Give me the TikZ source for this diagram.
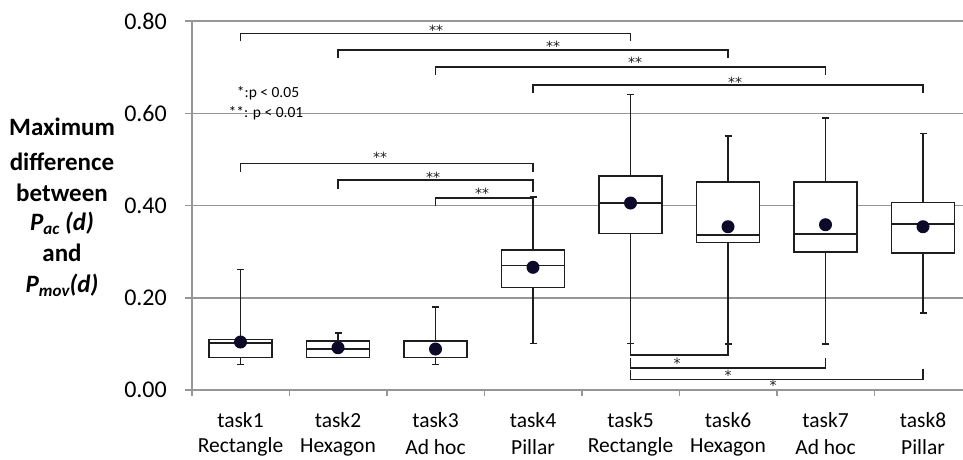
\documentclass[tikz,border=0pt]{standalone}
\usepackage{fontspec}
\setmainfont{Carlito}
\newfontfamily\starfont{DejaVu Sans}
\definecolor{gridgray}{RGB}{150,150,150}
\definecolor{dotcol}{RGB}{12,10,40}
\definecolor{ink}{RGB}{30,30,30}
\begin{document}
\begin{tikzpicture}[x=1pt,y=-1pt,
  gridline/.style={draw=gridgray,line width=1.5pt},
  boxline/.style={draw=ink,line width=1.6pt},
  bracket/.style={draw=ink,line width=1.6pt},
  meandot/.style={fill=dotcol,draw=none},
  ticklab/.style={font=\fontsize{24}{24}\selectfont,anchor=east,inner sep=0pt},
  catlab/.style={font=\fontsize{21.5}{21.5}\selectfont,inner sep=0pt},
  ylab/.style={font=\fontsize{25}{25}\selectfont\bfseries,inner sep=0pt},
  star/.style={font=\starfont\fontsize{14}{14}\selectfont,text=ink,inner sep=0pt,anchor=base},
  legend/.style={font=\fontsize{15.5}{15.5}\selectfont,inner sep=0pt}]
\useasboundingbox (0,0) rectangle (963,459);
\fill[white] (0,0) rectangle (963,459);
% gridlines
\foreach \yy in {21,113.25,205.5,297.75}
  \draw[gridline] (185,\yy) -- (963,\yy);
% axes
\draw[gridline] (192,21) -- (192,396);
\draw[gridline] (185,390) -- (963,390);
\foreach \xx in {289.5,387,484.5,582,679.5,777,874.5}
  \draw[gridline] (\xx,390) -- (\xx,396);
% tick labels
\node[ticklab] (t80) at (167,21) {0.80};
\node[ticklab] (t60) at (167,113.25) {0.60};
\node[ticklab] (t40) at (167,205.5) {0.40};
\node[ticklab] (t20) at (167,297.75) {0.20};
\node[ticklab] (t00) at (167,390) {0.00};
% y label
\node[ylab] (yl1) at (62,127) {Maximum};
\node[ylab] (yl2) at (62,162) {difference};
\node[ylab] (yl3) at (62,193) {between};
\node[ylab] (yl4) at (62,223) {\itshape P\raisebox{-0.35ex}{\fontsize{17}{17}\selectfont ac} (d)};
\node[ylab] (yl5) at (62,253) {and};
\node[ylab] (yl6) at (62,285) {\itshape P\raisebox{-0.35ex}{\fontsize{17}{17}\selectfont mov}(d)};
% legend
\node[legend] (lg1) at (268,93) {*:p < 0.05};
\node[legend] (lg2) at (266,113) {**: p < 0.01};
% box plots: x, whisker top, box top, median, mean, box bottom, whisker bottom, extra
\newcommand{\bxplt}[8]{%
  \draw[boxline] (#1-3.5,#2) -- (#1+3.5,#2);
  \draw[boxline] (#1,#2) -- (#1,#3);
  \draw[boxline] (#1,#6) -- (#1,#7);
  \draw[boxline] (#1-3.5,#7) -- (#1+3.5,#7);
  \draw[boxline,fill=white] (#1-31.5,#3) rectangle (#1+31.5,#6);
  #8
  \fill[meandot] (#1,#5) circle (6.5pt);
}
\bxplt{240.5}{269.3}{339.3}{342.7}{342}{357.3}{364.3}{\draw[boxline] (240.5-31.5,342.7) -- (240.5+31.5,342.7);}
\bxplt{338}{332.7}{340.7}{349}{347.7}{357.3}{357.3}{\draw[boxline] (338-31.5,349) -- (338+31.5,349);}
\bxplt{435.5}{306.7}{341}{349}{349}{357.3}{364.3}{}
\bxplt{533}{196.7}{250}{265.3}{267.3}{287.3}{343.3}{\draw[boxline] (533-31.5,265.3) -- (533+31.5,265.3);}
\bxplt{630.5}{94.3}{175.7}{202.7}{203}{233.3}{343.3}{\draw[boxline] (630.5-31.5,202.7) -- (630.5+31.5,202.7);}
\bxplt{728}{135.7}{181.7}{235}{226.7}{242.3}{344}{\draw[boxline] (728-31.5,235) -- (728+31.5,235);}
\bxplt{825.5}{118}{181.7}{234}{224.7}{252}{344}{\draw[boxline] (825.5-31.5,234) -- (825.5+31.5,234);}
\bxplt{923}{133.3}{202.3}{224}{226.7}{252.7}{312.7}{\draw[boxline] (923-31.5,224) -- (923+31.5,224);}
% upper brackets
\draw[bracket] (240.5,41) -- (240.5,33.3) -- (630.5,33.3) -- (630.5,41);
\draw[bracket] (338,58) -- (338,50) -- (728,50) -- (728,58);
\draw[bracket] (435.5,75) -- (435.5,67) -- (825.5,67) -- (825.5,75);
\draw[bracket] (533,93) -- (533,85) -- (923,85) -- (923,93);
\draw[bracket] (240.5,172) -- (240.5,163.3) -- (533,163.3) -- (533,172);
\draw[bracket] (338,189) -- (338,180) -- (533,180) -- (533,192);
\draw[bracket] (435.5,206) -- (435.5,197.7) -- (533,197.7) -- (533,196.7);
\node[star] (s1) at (436,35) {**};
\node[star] (s2) at (553,51.5) {**};
\node[star] (s3) at (635,67) {**};
\node[star] (s4) at (735,87.2) {**};
\node[star] (s5) at (380,162.2) {**};
\node[star] (s6) at (433,182.2) {**};
\node[star] (s7) at (482,198) {**};
% lower brackets
\draw[bracket] (630.5,344) -- (630.5,355) -- (728,355) -- (728,344);
\draw[bracket] (630.5,358) -- (630.5,367.7) -- (825.5,367.7) -- (825.5,358);
\draw[bracket] (630.5,370) -- (630.5,379.3) -- (923,379.3) -- (923,369);
\node[star] (s8) at (677,368.3) {*};
\node[star] (s9) at (728,380) {*};
\node[star] (s10) at (773,390.3) {*};
% category labels
\foreach \xx/\aa/\bb [count=\i] in {240.5/task1/Rectangle,338/task2/Hexagon,435.5/task3/Ad hoc,533/task4/Pillar,630.5/task5/Rectangle,728/task6/Hexagon,825.5/task7/Ad hoc,923/task8/Pillar}{
  \node[catlab] (ca\i) at (\xx,420) {\aa};
  \node[catlab] (cb\i) at (\xx,447) {\bb};
}
\end{tikzpicture}
\end{document}
